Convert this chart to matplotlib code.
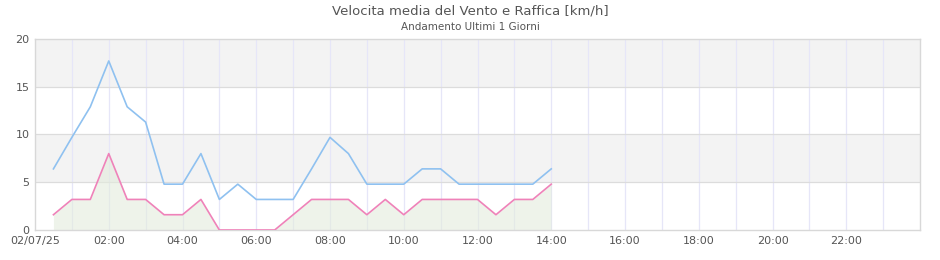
import matplotlib
matplotlib.use("Agg")
import matplotlib.pyplot as plt
import numpy as np

title = "Velocita media del Vento e Raffica [km/h]"
subtitle = "Andamento Ultimi 1 Giorni"

# time in hours since 02/07/25 00:00
hours = [0.5, 1.0, 1.5, 2.0, 2.5, 3.0, 3.5, 4.0, 4.5, 5.0, 5.5, 6.0, 6.5, 7.0,
         7.5, 8.0, 8.5, 9.0, 9.5, 10.0, 10.5, 11.0, 11.5, 12.0, 12.5, 13.0, 13.5, 14.0]
raffica = [6.4, 9.7, 12.9, 17.7, 12.9, 11.3, 4.8, 4.8, 8.0, 3.2, 4.8, 3.2, 3.2, 3.2,
           6.4, 9.7, 8.0, 4.8, 4.8, 4.8, 6.4, 6.4, 4.8, 4.8, 4.8, 4.8, 4.8, 6.4]
media = [1.6, 3.2, 3.2, 8.0, 3.2, 3.2, 1.6, 1.6, 3.2, 0.0, 0.0, 0.0, 0.0, 1.6,
         3.2, 3.2, 3.2, 1.6, 3.2, 1.6, 3.2, 3.2, 3.2, 3.2, 1.6, 3.2, 3.2, 4.8]
tick_pos = [0, 2, 4, 6, 8, 10, 12, 14, 16, 18, 20, 22]
tick_labels = ["02/07/25", "02:00", "04:00", "06:00", "08:00", "10:00", "12:00",
               "14:00", "16:00", "18:00", "20:00", "22:00"]
y_ticks = [0, 5, 10, 15, 20]

fig = plt.figure(figsize=(9.4, 2.6), dpi=100)
ax = fig.add_axes([35/940, 30/260, 885/940, 191/260])
ax.set_xlim(0, 24)
ax.set_ylim(0, 20)

# alternating bands
for i in range(len(y_ticks) - 1):
    if i % 2 == 1:
        ax.axhspan(y_ticks[i], y_ticks[i+1], color="#f3f3f3", zorder=0, lw=0)
for h in range(1, 24):
    ax.axvline(h, color="#e6e6f8", lw=0.9, zorder=1)
for y in y_ticks[1:-1]:
    ax.axhline(y, color="#dcdcdc", lw=0.9, zorder=1)

ax.fill_between(hours, media, 0, color="#e3ecdd", alpha=0.6, lw=0, zorder=2)
ax.plot(hours, raffica, color="#8fc1f0", lw=1.2, zorder=3)
ax.plot(hours, media, color="#ef82b9", lw=1.2, zorder=3)

ax.set_xticks(tick_pos)
ax.set_xticklabels(tick_labels)
ax.set_yticks(y_ticks)
ax.tick_params(length=0, labelsize=8, colors="#555555", pad=4)
for s in ax.spines.values():
    s.set_color("#d8d8d8")
    s.set_linewidth(1)

fig.text(0.5, 1 - 11/260, title, ha="center", va="center", fontsize=9.5, color="#555555")
fig.text(0.5, 1 - 27/260, subtitle, ha="center", va="center", fontsize=7.5, color="#555555")

fig.savefig("out.png", dpi=100)
